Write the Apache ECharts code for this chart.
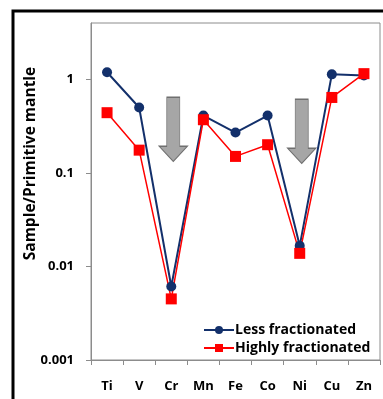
<!DOCTYPE html>
<html>
<head>
<meta charset="utf-8">
<script src="https://cdn.jsdelivr.net/npm/echarts@6/dist/echarts.min.js"></script>
<style>
  body { margin: 0; background: #fff; }
  #chart { width: 383px; height: 399px; }
</style>
</head>
<body>
<div id="chart"></div>
<script>
let elements = ['Ti', 'V', 'Cr', 'Mn', 'Fe', 'Co', 'Ni', 'Cu', 'Zn'];
let lessFractionated = [1.19, 0.50, 0.0061, 0.41, 0.27, 0.41, 0.0166, 1.13, 1.10];
let highlyFractionated = [0.44, 0.175, 0.0045, 0.37, 0.15, 0.20, 0.0138, 0.64, 1.15];
let yTicks = [0.001, 0.01, 0.1, 1];
// depletion arrows (element, centre value on the y scale)
let arrows = [['Cr', 0.292], ['Ni', 0.278]];

let font = 'Open Sans';
let arrowPath = 'path://M7.5,0 L20.5,0 L20.5,49 L28,49 L14,64 L0,49 L7.5,49 Z';

var myChart = echarts.init(document.getElementById('chart'));

let option = {
    animation: false,
    textStyle: { fontFamily: font },
    grid: {
        left: 91,
        right: 3,
        top: 23,
        bottom: 39,
        show: true,
        borderColor: '#8c8c8c',
        borderWidth: 1
    },
    graphic: [{
        type: 'rect',
        shape: { x: 13, y: 11, width: 420, height: 420 },
        style: { fill: 'none', stroke: '#000', lineWidth: 3 },
        silent: true
    }],
    legend: {
        orient: 'vertical',
        left: 203,
        top: 323,
        padding: 0,
        itemWidth: 30,
        itemHeight: 10,
        itemGap: 4,
        textStyle: { fontFamily: font, fontWeight: 'bold', fontSize: 14, color: '#000', padding: [0, 0, 0, -4] },
        data: ['Less fractionated', 'Highly fractionated']
    },
    xAxis: {
        type: 'category',
        data: elements,
        boundaryGap: true,
        axisLine: { lineStyle: { color: '#8c8c8c', width: 1 } },
        axisTick: { show: true, length: 5, inside: false, lineStyle: { color: '#8c8c8c' } },
        axisLabel: { margin: 20, fontFamily: font, fontWeight: 'bold', fontSize: 13, color: '#000' }
    },
    yAxis: {
        type: 'log',
        logBase: 10,
        min: 0.001,
        max: 4,
        name: 'Sample/Primitive mantle',
        nameLocation: 'middle',
        nameGap: 52,
        nameMoveOverlap: false,
        nameTextStyle: { fontFamily: font, fontWeight: 'bold', fontSize: 15.5, color: '#000', padding: [0, 0, 0, 56] },
        splitLine: { show: false },
        axisLine: { show: true, lineStyle: { color: '#8c8c8c', width: 1 } },
        axisTick: { show: true, length: 5, customValues: yTicks, lineStyle: { color: '#8c8c8c' } },
        axisLabel: {
            margin: 17,
            customValues: yTicks,
            fontFamily: font,
            fontWeight: 'bold',
            fontSize: 13,
            color: '#000',
            formatter: function (v) { return String(v); }
        }
    },
    series: [
        {
            name: 'Less fractionated',
            type: 'line',
            data: lessFractionated,
            symbol: 'circle',
            symbolSize: 10,
            color: '#13306b',
            lineStyle: { width: 2, color: '#13306b' },
            markPoint: {
                symbol: arrowPath,
                symbolSize: [28, 64],
                symbolOffset: [2, 0],
                itemStyle: { color: '#a6a6a6', borderColor: '#6f6f6f', borderWidth: 1 },
                label: { show: false },
                data: arrows.map(a => ({ coord: [a[0], a[1]] }))
            }
        },
        {
            name: 'Highly fractionated',
            type: 'line',
            data: highlyFractionated,
            symbol: 'rect',
            symbolSize: 11,
            color: '#ff0000',
            lineStyle: { width: 1.5, color: '#ff0000' }
        }
    ]
};

myChart.setOption(option);
</script>
</body>
</html>
